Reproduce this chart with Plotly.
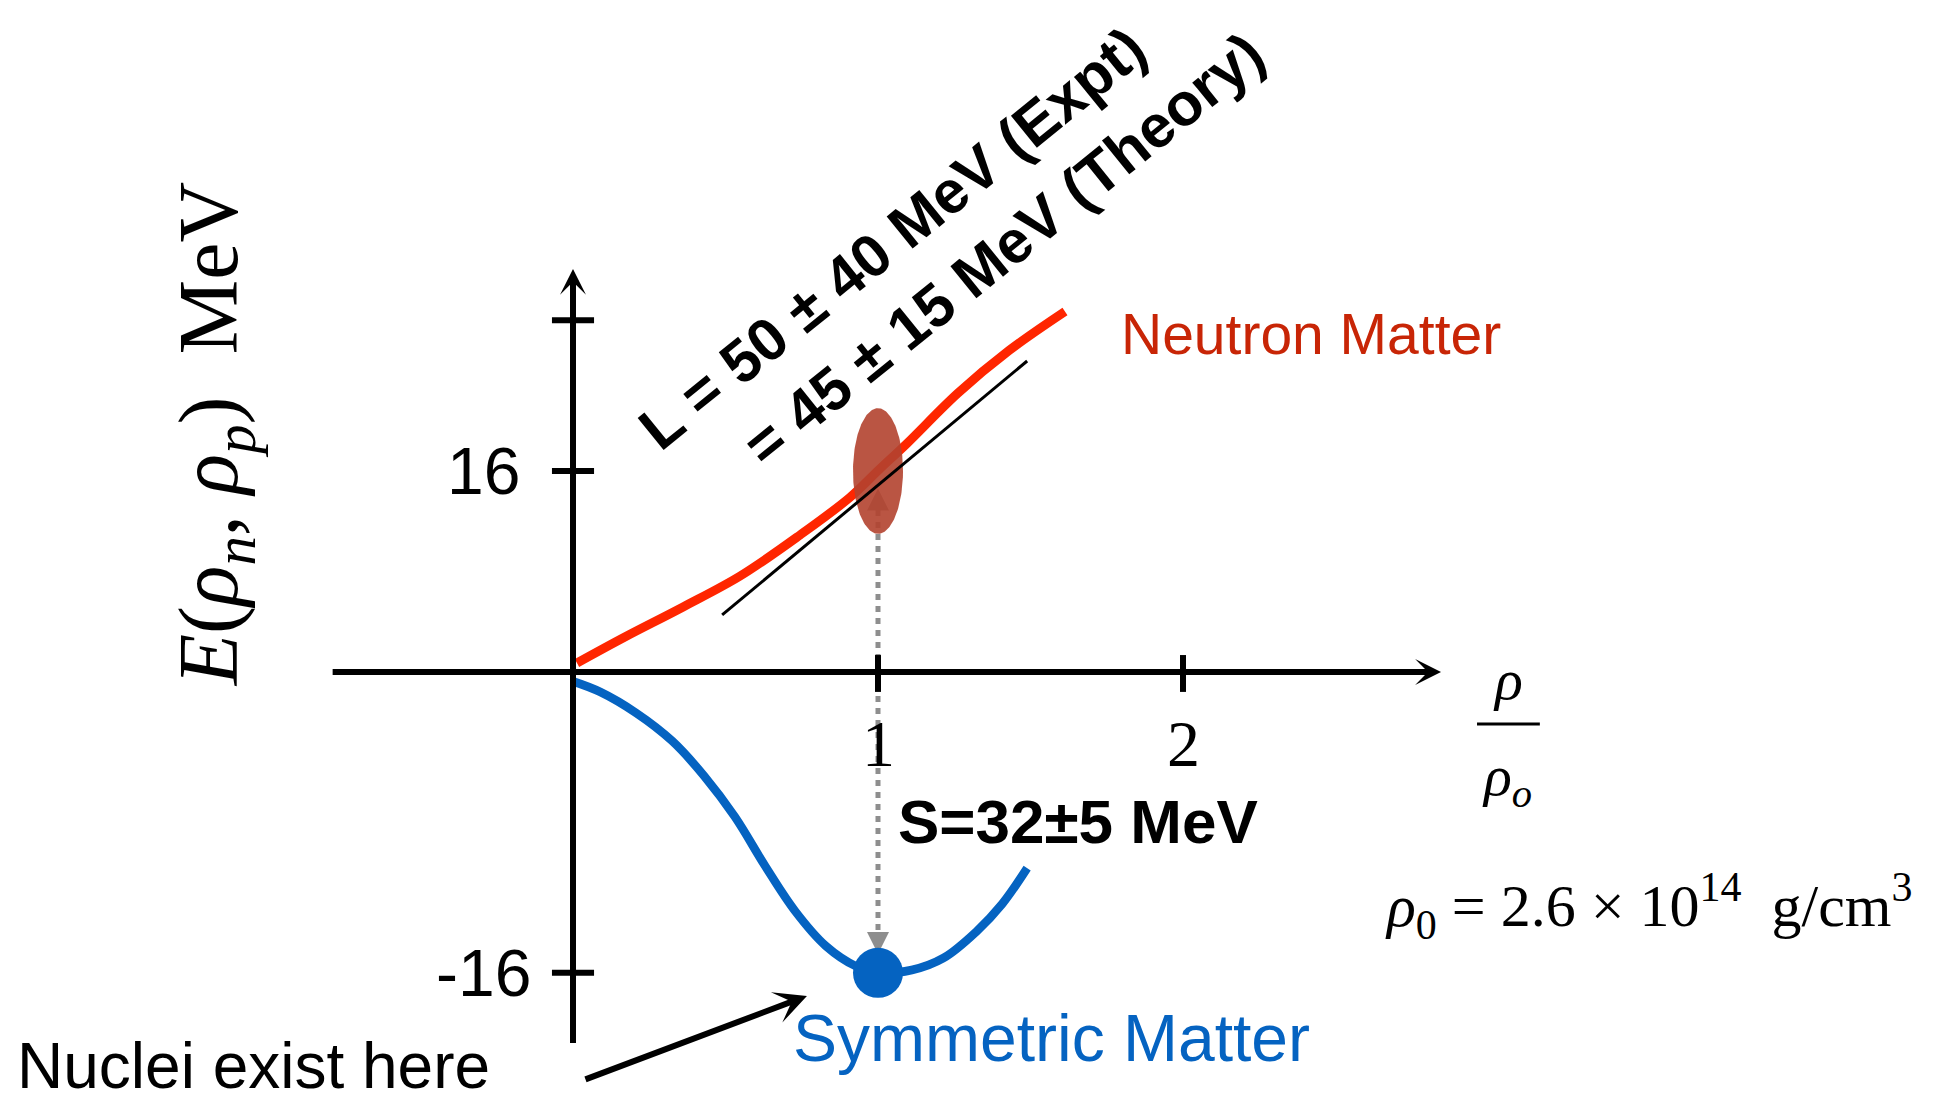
import numpy as np
import plotly.graph_objects as go

# ---- data: energy per nucleon (MeV) vs density rho/rho0 ----
neutron_rho = [0.013, 0.170, 0.361, 0.548, 0.744, 0.908, 1.003, 1.095, 1.262, 1.430, 1.613]
neutron_E = [0.72, 2.79, 5.18, 7.64, 10.9, 13.9, 16.1, 18.2, 22.2, 25.6, 28.7]

symmetric_rho = [0.0, 0.089, 0.207, 0.325, 0.43, 0.531, 0.63, 0.728, 0.829, 0.928,
                 1.0, 1.111, 1.216, 1.321, 1.407, 1.489]
symmetric_E = [-0.5, -1.06, -2.18, -3.67, -5.53, -7.71, -10.32, -12.71, -14.57, -15.65,
               -16.0, -15.85, -15.2, -13.83, -12.34, -10.43]

# slope line (L) drawn along the neutron-matter curve
slope_rho = [0.489, 1.489]
slope_E = [4.54, 24.76]

# saturation point and symmetry energy
rho_sat = 1.0
E_sat = -16.0
S_val = 32.0
S_err = 5.0

# dashed arrow between the two curves at saturation
arrow_top = 14.6
arrow_bottom = -15.0

# axis ticks
x_ticks = [1, 2]
x_tick_text = ["1", "2"]
y_ticks_up = [16, 28]
y_ticks_up_text = ["16", ""]
y_ticks_low = [-16]
y_ticks_low_text = ["-16"]

# ---- axes extents (data units) ----
X_RANGE = [-1.8787, 4.4754]
Y_UP_RANGE = [0, 53.5]      # positive energies (upper panel)
Y_LOW_RANGE = [-23.03, 0]   # negative energies (lower panel)
SPLIT = 0.39186
x_axis_start, x_axis_end = -0.793, 2.846
y_axis_top, y_axis_bottom = 32.09, -19.73

RED = "#ff2600"
BLUE = "#0563c1"
GRAY = "#8e8e8e"
SANS = "Liberation Sans, Arial, sans-serif"
NARROW = "Liberation Sans Narrow, Liberation Sans, Arial, sans-serif"
SERIF = "Liberation Serif, Times New Roman, serif"
NB = "\u00a0"

fig = go.Figure()

# dashed S arrow (upper and lower halves)
fig.add_trace(go.Scatter(x=[rho_sat, rho_sat], y=[0, 12.9], yaxis="y2", mode="lines",
                         line=dict(color=GRAY, width=5, dash="6px,6px"), hoverinfo="skip"))
fig.add_trace(go.Scatter(x=[rho_sat], y=[arrow_top], yaxis="y2", mode="markers",
                         marker=dict(symbol="arrow-up", size=22, color=GRAY), hoverinfo="skip"))
fig.add_trace(go.Scatter(x=[rho_sat, rho_sat], y=[0, -14.0], yaxis="y", mode="lines",
                         line=dict(color=GRAY, width=5, dash="6px,6px"), hoverinfo="skip"))
fig.add_trace(go.Scatter(x=[rho_sat], y=[arrow_bottom], yaxis="y", mode="markers",
                         marker=dict(symbol="arrow-down", size=22, color=GRAY), hoverinfo="skip"))

# neutron matter
fig.add_trace(go.Scatter(x=neutron_rho, y=neutron_E, yaxis="y2", mode="lines",
                         line=dict(color=RED, width=9, shape="spline"), hoverinfo="skip"))
# symmetric matter
fig.add_trace(go.Scatter(x=symmetric_rho, y=symmetric_E, yaxis="y", mode="lines",
                         line=dict(color=BLUE, width=8.5, shape="spline"), hoverinfo="skip"))

# uncertainty ellipse around E_sat + S
t = np.linspace(0, 2 * np.pi, 181)
fig.add_trace(go.Scatter(x=rho_sat + 0.082 * np.cos(t),
                         y=(E_sat + S_val) + S_err * np.sin(t), yaxis="y2",
                         mode="lines", fill="toself", fillcolor="#b3432f",
                         line=dict(width=0, color="#b3432f"), opacity=0.9, hoverinfo="skip"))

# slope line
fig.add_trace(go.Scatter(x=slope_rho, y=slope_E, yaxis="y2", mode="lines",
                         line=dict(color="black", width=3), hoverinfo="skip"))

# saturation point
fig.add_trace(go.Scatter(x=[rho_sat], y=[E_sat], yaxis="y", mode="markers",
                         marker=dict(size=50, color=BLUE), hoverinfo="skip"))

shapes = []
# lower part of the vertical axis
shapes.append(dict(type="line", xref="x", yref="y", x0=0, x1=0, y0=0, y1=y_axis_bottom,
                   line=dict(color="black", width=6), layer="above"))
# x ticks crossing the horizontal axis
for xv in x_ticks:
    shapes.append(dict(type="line", xref="x", yref="y2", x0=xv, x1=xv, y0=0, y1=1.35,
                       line=dict(color="black", width=6), layer="above"))
    shapes.append(dict(type="line", xref="x", yref="y", x0=xv, x1=xv, y0=0, y1=-1.06,
                       line=dict(color="black", width=6), layer="above"))
# y ticks
for yv in y_ticks_up:
    shapes.append(dict(type="line", xref="x", yref="y2", x0=-0.069, x1=0.069, y0=yv, y1=yv,
                       line=dict(color="black", width=6), layer="above"))
for yv in y_ticks_low:
    shapes.append(dict(type="line", xref="x", yref="y", x0=-0.069, x1=0.069, y0=yv, y1=yv,
                       line=dict(color="black", width=6), layer="above"))
# fraction bar of the x-axis label
shapes.append(dict(type="line", xref="x", yref="y", x0=2.964, x1=3.170, y0=-2.77, y1=-2.77,
                   line=dict(color="black", width=3)))

ann = []
# axis arrows
ann.append(dict(x=x_axis_end, y=0, xref="x", yref="y2", ax=x_axis_start, ay=0,
                axref="x", ayref="y2", text="", showarrow=True, arrowhead=3,
                arrowsize=0.72, arrowwidth=6, arrowcolor="black", standoff=0))
ann.append(dict(x=0, y=y_axis_top, xref="x", yref="y2", ax=0, ay=0,
                axref="x", ayref="y2", text="", showarrow=True, arrowhead=3,
                arrowsize=0.72, arrowwidth=6, arrowcolor="black", standoff=0))

# tick labels
for yv, txt in zip(y_ticks_up, y_ticks_up_text):
    if txt:
        ann.append(dict(x=-0.167, y=yv, xref="x", yref="y2", text=txt, showarrow=False,
                        xanchor="right", yanchor="middle",
                        font=dict(family=NARROW, size=66, color="black")))
for yv, txt in zip(y_ticks_low, y_ticks_low_text):
    ann.append(dict(x=-0.131, y=yv, xref="x", yref="y", text=txt, showarrow=False,
                    xanchor="right", yanchor="middle",
                    font=dict(family=NARROW, size=66, color="black")))
for xv, txt in zip(x_ticks, x_tick_text):
    ann.append(dict(x=xv, y=-3.78, xref="x", yref="y", text=txt, showarrow=False,
                    xanchor="center", yanchor="middle",
                    font=dict(family=SERIF, size=66, color="black")))

# axis titles
ann.append(dict(x=-1.175, y=18.9, xref="x", yref="y2", textangle=-90, showarrow=False,
                text="<i>E</i>(<i>ρ</i><sub><i>n</i></sub>," + NB + "<i>ρ</i><sub><i>p</i></sub>)"
                     + NB + NB + "MeV",
                font=dict(family=SERIF, size=84, color="black")))
ann.append(dict(x=3.066, y=-0.4, xref="x", yref="y", text="<i>ρ</i>", showarrow=False,
                font=dict(family=SERIF, size=58, color="black")))
ann.append(dict(x=3.062, y=-5.74, xref="x", yref="y", text="<i>ρ<sub>o</sub></i>",
                showarrow=False, font=dict(family=SERIF, size=58, color="black")))
ann.append(dict(x=3.525, y=-12.45, xref="x", yref="y", showarrow=False,
                text="<i>ρ</i><sub>0</sub>" + NB + "=" + NB + "2.6" + NB + "×" + NB + "10<sup>14</sup>"
                     + NB + NB + "g/cm<sup>3</sup>",
                font=dict(family=SERIF, size=60, color="black")))

# curve labels
ann.append(dict(x=1.790, y=26.9, xref="x", yref="y2", text="Neutron Matter",
                showarrow=False, xanchor="left",
                font=dict(family=SANS, size=57, color="#c82506")))
ann.append(dict(x=0.715, y=-19.47, xref="x", yref="y", text="Symmetric Matter",
                showarrow=False, xanchor="left",
                font=dict(family=SANS, size=66, color=BLUE)))
ann.append(dict(x=1.059, y=-7.93, xref="x", yref="y", text="<b>S=32±5 MeV</b>",
                showarrow=False, xanchor="left",
                font=dict(family=SANS, size=62, color="black")))
ann.append(dict(x=1.046, y=34.55, xref="x", yref="y2", text="<b>L = 50 ± 40 MeV (Expt)</b>",
                showarrow=False, textangle=-39,
                font=dict(family=SANS, size=60, color="black")))
ann.append(dict(x=1.413, y=33.6, xref="x", yref="y2", text="<b>= 45 ± 15 MeV (Theory)</b>",
                showarrow=False, textangle=-39,
                font=dict(family=SANS, size=60, color="black")))
ann.append(dict(x=-1.830, y=-22.98, xref="x", yref="y", text="Nuclei exist here",
                showarrow=False, xanchor="left", yanchor="bottom",
                font=dict(family=SANS, size=64, color="black")))
ann.append(dict(x=0.767, y=-17.23, xref="x", yref="y", ax=0.036, ay=-21.7,
                axref="x", ayref="y", text="", showarrow=True, arrowhead=3,
                arrowsize=0.9, arrowwidth=6, arrowcolor="black", standoff=0))

fig.update_layout(
    width=1938, height=1105,
    margin=dict(l=0, r=0, t=0, b=0),
    paper_bgcolor="white", plot_bgcolor="white",
    showlegend=False,
    xaxis=dict(range=X_RANGE, domain=[0, 1], visible=False, anchor="y"),
    yaxis=dict(range=Y_LOW_RANGE, domain=[0, SPLIT], visible=False, anchor="x"),
    yaxis2=dict(range=Y_UP_RANGE, domain=[SPLIT, 1], visible=False, anchor="x"),
    shapes=shapes,
    annotations=ann,
)

fig.write_html("out.html")
